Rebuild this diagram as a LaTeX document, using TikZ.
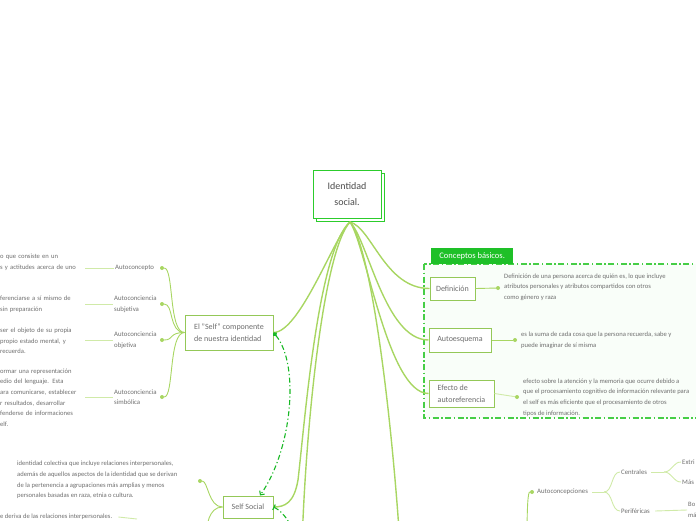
\documentclass[tikz,border=0pt]{standalone}
\usepackage{fontspec}
\setmainfont{Carlito}
\usepackage{tikz}
\usetikzlibrary{arrows.meta,positioning,calc}
\definecolor{cBranch}{RGB}{168,214,98}
\definecolor{cBox}{RGB}{148,200,88}
\definecolor{cLeaf}{RGB}{208,234,168}
\definecolor{cRel}{RGB}{24,184,36}
\definecolor{cRoot}{RGB}{44,204,44}
\definecolor{cFrame}{RGB}{70,206,70}
\definecolor{cTab}{RGB}{30,192,40}
\definecolor{cText}{RGB}{110,110,110}

\begin{document}
\begin{tikzpicture}[x=1pt,y=-1pt,
      rootbox/.style={draw=cRoot,line width=1pt,fill=white,minimum width=68pt,minimum height=48pt,align=center,font=\fontsize{10}{16}\selectfont,text=black!70},
      topic/.style={draw=cBox,line width=1pt,fill=white,align=left,inner sep=3pt,font=\fontsize{8}{12.5}\selectfont,text=cText},
      lbl/.style={anchor=west,align=left,inner sep=1pt,font=\fontsize{6.8}{10.5}\selectfont,text=cText},
      desc/.style={anchor=west,align=left,inner sep=1pt,font=\fontsize{6.6}{10.6}\selectfont,text=cText},
      ldesc/.style={desc,text width=84pt},
      knob/.style={circle,fill=cBranch,inner sep=0pt,minimum size=4pt},
      branch/.style={draw=cBranch,line width=1.4pt},
      twig/.style={draw=cBranch,line width=0.9pt},
      leaf/.style={draw=cLeaf,line width=0.9pt},
      rel/.style={draw=cRel,line width=1.1pt,dash pattern=on 5pt off 2.5pt on 1.2pt off 2.5pt},
      tab/.style={fill=cTab,text=white,minimum width=82pt,minimum height=16pt,inner sep=2pt,font=\fontsize{8.5}{10}\selectfont}
    ]
      \useasboundingbox (0,0) rectangle (696,520);
      \clip (0,0) rectangle (696,520);
      % Conceptos basicos frame
      \draw[draw=cFrame,fill=cFrame!3,line width=1.1pt,dash pattern=on 6pt off 2.5pt on 1.5pt off 2.5pt] (424,264) rectangle (740,418);
      \node[tab,anchor=south west] (tabc) at (431,264) {Conceptos básicos.};
      % Root
      \draw[draw=cRoot,line width=1pt,fill=white] (316.5,173) rectangle (384.5,221);
      \node[rootbox] (root) at (347,194) {Identidad\\ social.};
      \coordinate (hub) at (350,222);
      % Main topics
      \node[topic,minimum width=88pt,minimum height=35pt] (self) at (229,332.5) {El "Self" componente\\ de nuestra identidad};
      \node[topic,minimum width=50pt,minimum height=22pt] (soc) at (248,507) {Self Social};
      \node[topic,minimum width=45pt,minimum height=23pt] (def) at (452.5,288.5) {Definición};
      \node[topic,minimum width=62pt,minimum height=24pt] (aesq) at (460,340) {Autoesquema};
      \node[topic,minimum width=65pt,minimum height=27pt] (aref) at (461.5,393.5) {Efecto de\\ autoreferencia};
      \coordinate (offL) at (302,545);
      \coordinate (offM) at (400,545);
      \draw[branch] (hub) .. controls (335,235) and (300,332.5) .. (self.east);
      \draw[branch] (hub) .. controls (318,250) and (305,420) .. (298,480) .. controls (294,503) and (285,507) .. (soc.east);
      \draw[branch] (hub) .. controls (324,250) and (306,420) .. (offL);
      \draw[branch] (hub) .. controls (372,250) and (392,420) .. (offM);
      \draw[branch] (hub) .. controls (372,228) and (385,288.5) .. (def.west);
      \draw[branch] (hub) .. controls (368,240) and (385,340) .. (aesq.west);
      \draw[branch] (hub) .. controls (366,245) and (388,393.5) .. (aref.west);
      % Relationships
      \coordinate (offR) at (300,545);
      \draw[rel,{Circle[length=4.5pt]}-{Straight Barb[length=3pt,width=6pt]}] (self.east) .. controls (300,365) and (292,450) .. ([xshift=12pt]soc.north);
      \draw[rel,{Bar[width=6pt]}-] (soc.east) .. controls (284,512) and (292,525) .. (offR);
      % Definicion, Autoesquema, Efecto
      \node[knob] (kdef) at (498,288) {};
      \node[desc] (ddef) at (503,287) {Definición de una persona acerca de quién es, lo que incluye\\ atributos personales y atributos compartidos con otros\\ como género y raza};
      \draw[twig] (def.east) -- (kdef);
      \node[knob] (kaesq) at (515,340) {};
      \node[desc] (daesq) at (520,340) {es la suma de cada cosa que la persona recuerda, sabe y\\ puede imaginar de sí misma};
      \draw[twig] (aesq.east) -- (kaesq);
      \node[knob] (karef) at (517,397) {};
      \node[desc] (daref) at (522,397.5) {efecto sobre la atención y la memoria que ocurre debido a\\ que el procesamiento cognitivo de información relevante para\\ el self es más eficiente que el procesamiento de otros\\ tipos de información.};
      \draw[leaf] (aref.east) -- (karef);
      % El Self subtopics
      \node[knob] (k1) at (162,268) {};
      \node[knob] (k2) at (162,304) {};
      \node[knob] (k3) at (162,340) {};
      \node[knob] (k4) at (162,397) {};
      \node[lbl] (acon) at (114,268) {Autoconcepto};
      \node[lbl] (asub) at (113,304) {Autoconciencia\\ subjetiva};
      \node[lbl] (aobj) at (113,340) {Autoconciencia\\ objetiva};
      \node[lbl] (asim) at (113,397) {Autoconciencia\\ simbólica};
      \foreach \k in {k1,k2,k3,k4}
        \draw[twig] (self.west) .. controls +(-16,0) and +(12,0) .. (\k);
      \node[ldesc] (d1) at (-1,262.5) {o que consiste en un\\ s y actitudes acerca de uno};
      \node[ldesc] (d2) at (-1,304) {ferenciarse a sí mismo de\\ sin preparación};
      \node[ldesc] (d3) at (-1,341) {ser el objeto de su propia\\ propio estado mental, y\\ recuerda.};
      \node[ldesc] (d4) at (-1,397.5) {ormar una representación\\ edio del lenguaje. Esta\\ ara comunicarse, establecer\\ r resultados, desarrollar\\ fenderse de informaciones\\ elf.};
      \draw[leaf] (d1.east |- acon.west) -- (acon.west);
      \draw[leaf] (d2.east |- asub.west) -- (asub.west);
      \draw[leaf] (d3.east |- aobj.west) -- (aobj.west);
      \draw[leaf] (d4.east |- asim.west) -- (asim.west);
      % Self Social subtopics
      \node[knob] (kcol) at (200,481) {};
      \node[desc] (dcol) at (16,480) {identidad colectiva que incluye relaciones interpersonales,\\ además de aquellos aspectos de la identidad que se derivan\\ de la pertenencia a agrupaciones más amplias y menos\\ personales basadas en raza, etnia o cultura.};
      \coordinate (offS) at (206,540);
      \draw[twig] (soc.west) .. controls +(-14,0) and +(8,0) .. (kcol);
      \draw[twig] (soc.west) .. controls +(-14,0) and +(0,-14) .. (offS);
      \node[desc] (drel) at (-1,517) {e deriva de las relaciones interpersonales.};
      \coordinate (crel) at (137,519);
      \draw[leaf] ([xshift=5pt]drel.east) -- (crel);
      % Autoconcepciones
      \coordinate (offA) at (527,540);
      \node[knob] (kacp) at (532,492) {};
      \node[lbl] (acp) at (536,492) {Autoconcepciones};
      \draw[twig] (offA) .. controls (527,505) and (528,492) .. (kacp);
      \coordinate (j1) at (604,492);
      \draw[leaf] ([xshift=3pt]acp.east) -- (j1);
      \node[lbl] (cen) at (620,472) {Centrales};
      \node[lbl] (per) at (620,511) {Periféricas};
      \draw[leaf] (j1) .. controls +(9,0) and +(-9,0) .. (cen.west);
      \draw[leaf] (j1) .. controls +(9,0) and +(-9,0) .. (per.west);
      \coordinate (j2) at (664,472);
      \draw[leaf] ([xshift=3pt]cen.east) -- (j2);
      \node[lbl] (ext) at (681,462) {Extri};
      \node[lbl] (mas) at (681,482) {Más};
      \draw[leaf] (j2) .. controls +(8,0) and +(-8,0) .. (ext.west);
      \draw[leaf] (j2) .. controls +(8,0) and +(-8,0) .. (mas.west);
      \node[desc] (dper) at (687,510) {Bo\\ má};
      \draw[leaf] ([xshift=4pt]per.east) -- (dper.west);
    \end{tikzpicture}
\end{document}
